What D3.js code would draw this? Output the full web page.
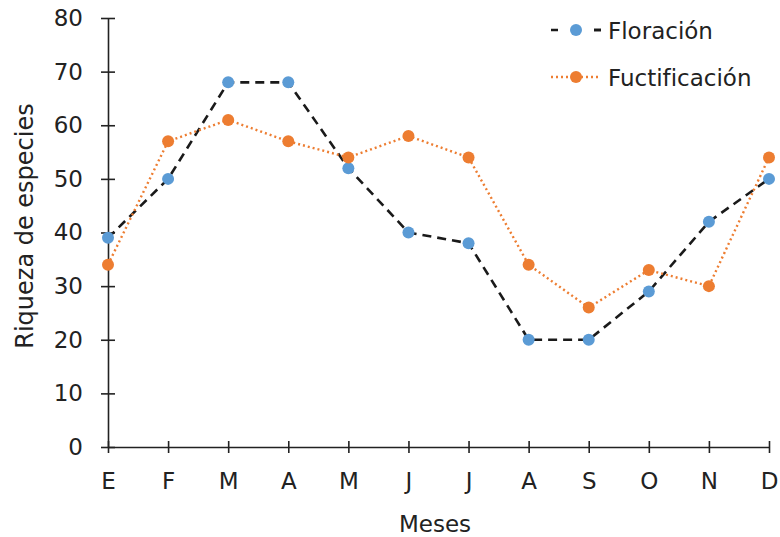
<!DOCTYPE html>
<html lang="es">
<head>
<meta charset="UTF-8" />
<title>Riqueza de especies</title>
<script src="https://cdn.jsdelivr.net/npm/d3@7"></script>
<style>
  body { margin: 0; background: #fff; }
  text { font-family: "DejaVu Sans", Verdana, sans-serif; fill: #222; }
</style>
</head>
<body>
<div id="chart"></div>
<script>
// data
const meses = ["E", "F", "M", "A", "M", "J", "J", "A", "S", "O", "N", "D"];
const floracion = [39, 50, 68, 68, 52, 40, 38, 20, 20, 29, 42, 50];
const fructificacion = [34, 57, 61, 57, 54, 58, 54, 34, 26, 33, 30, 54];
const yTicks = [0, 10, 20, 30, 40, 50, 60, 70, 80];

const w = 780, h = 537;
const mLeft = 108, mRight = 769, mTop = 18, mBottom = 447;
const fs = 23;

const svg = d3.select("#chart").append("svg")
  .attr("width", w).attr("height", h);

const x = d3.scalePoint(d3.range(meses.length), [mLeft, mRight]);
const y = d3.scaleLinear([0, 80], [mBottom, mTop]);

// axes with crossing ticks
const yAxis = svg.append("g")
  .attr("transform", "translate(" + mLeft + ",0)")
  .call(d3.axisLeft(y).tickValues(yTicks).tickSize(7).tickPadding(18).tickSizeOuter(0));
yAxis.selectAll(".tick line").attr("x2", 7).attr("x1", -7);

const xAxis = svg.append("g")
  .attr("transform", "translate(0," + mBottom + ")")
  .call(d3.axisBottom(x).tickFormat(i => meses[i]).tickSize(6).tickPadding(20).tickSizeOuter(0));
xAxis.selectAll(".tick line").attr("y1", -6).attr("y2", 6);

svg.selectAll(".domain").attr("stroke", "#222").attr("stroke-width", 1.6);
svg.selectAll(".tick line").attr("stroke", "#222").attr("stroke-width", 1.6);
svg.selectAll(".tick text").attr("font-size", fs).attr("fill", "#222")
  .style("font-family", "'DejaVu Sans', Verdana, sans-serif");

// axis titles
svg.append("text")
  .attr("x", 435).attr("y", 532)
  .attr("text-anchor", "middle").attr("font-size", fs)
  .text("Meses");
svg.append("text")
  .attr("transform", "translate(33,226) rotate(-90)")
  .attr("text-anchor", "middle").attr("font-size", 24)
  .text("Riqueza de especies");

const line = d3.line().x((d, i) => x(i)).y(d => y(d));

const series = [
  { name: "Floración", values: floracion, color: "#5B9BD5", stroke: "#1a1a1a", dash: "9,6", width: 2.6 },
  { name: "Fuctificación", values: fructificacion, color: "#ED7D31", stroke: "#ED7D31", dash: "2,3", width: 2.4 }
];

series.forEach(s => {
  svg.append("path")
    .datum(s.values)
    .attr("d", line)
    .attr("fill", "none")
    .attr("stroke", s.stroke)
    .attr("stroke-width", s.width)
    .attr("stroke-dasharray", s.dash);
});
// markers after lines; orange on top
series.forEach(s => {
  svg.append("g").selectAll("circle")
    .data(s.values)
    .enter()
    .append("circle")
    .attr("cx", (d, i) => x(i))
    .attr("cy", d => y(d))
    .attr("r", 6)
    .attr("fill", s.color);
});

// legend
const legend = svg.append("g");
series.forEach((s, i) => {
  const ly = 30 + i * 47;
  legend.append("line")
    .attr("x1", 551).attr("x2", 601).attr("y1", ly).attr("y2", ly)
    .attr("stroke", s.stroke).attr("stroke-width", s.width)
    .attr("stroke-dasharray", i === 0 ? "7,36" : s.dash);
  if (i === 0) {
    legend.append("line")
      .attr("x1", 594).attr("x2", 601).attr("y1", ly).attr("y2", ly)
      .attr("stroke", s.stroke).attr("stroke-width", s.width);
  }
  legend.append("circle")
    .attr("cx", 576).attr("cy", ly).attr("r", 6).attr("fill", s.color);
  legend.append("text")
    .attr("x", 608).attr("y", ly + 9)
    .attr("font-size", fs)
    .text(s.name);
});
</script>
</body>
</html>
